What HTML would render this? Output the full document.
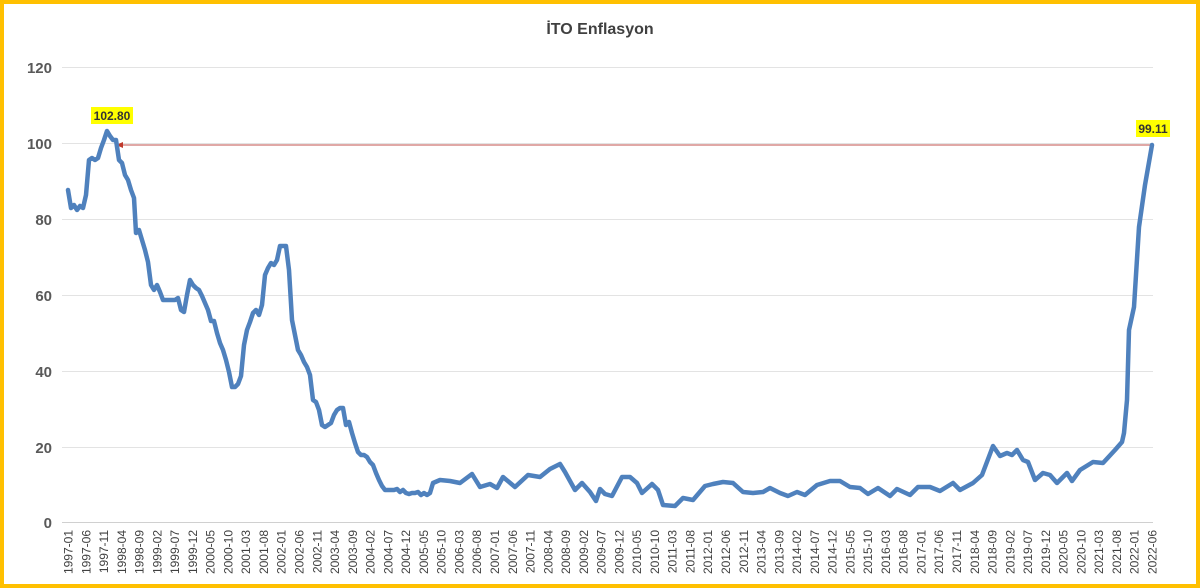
<!DOCTYPE html>
<html><head><meta charset="utf-8"><style>
body{margin:0;background:#fff}
svg{display:block;font-family:"Liberation Sans",sans-serif}
</style></head><body>
<svg width="1200" height="588" viewBox="0 0 1200 588">
<rect x="2" y="2" width="1196" height="584" fill="#fff" stroke="#FFC000" stroke-width="4"/>
<text x="600" y="34" text-anchor="middle" font-size="16" font-weight="bold" fill="#404040">İTO Enflasyon</text>
<g stroke="#e3e3e3" stroke-width="1">
<line x1="62" x2="1153" y1="67.5" y2="67.5"/><line x1="62" x2="1153" y1="143.5" y2="143.5"/>
<line x1="62" x2="1153" y1="219.5" y2="219.5"/><line x1="62" x2="1153" y1="295.5" y2="295.5"/>
<line x1="62" x2="1153" y1="371.5" y2="371.5"/><line x1="62" x2="1153" y1="447.5" y2="447.5"/>
<line x1="62" x2="1153" y1="522.5" y2="522.5" stroke="#d0d0d0"/>
</g>
<g font-size="15" font-weight="bold" fill="#595959" text-anchor="end">
<text x="52" y="73">120</text><text x="52" y="149">100</text><text x="52" y="225">80</text>
<text x="52" y="301">60</text><text x="52" y="377">40</text><text x="52" y="453">20</text><text x="52" y="528">0</text>
</g>
<g id="xl" font-size="12" fill="#404040"></g>
<line x1="1152" y1="145" x2="122" y2="145" stroke="#c0504d" stroke-width="1"/>
<polygon points="116,145 123,142 123,148" fill="#c0392b"/>
<polyline fill="none" stroke="#4f81bd" stroke-width="4.5" stroke-linejoin="round" stroke-linecap="round" points="68,190 71,208 74,205 77,210 80,206 83,208 86,195 89,160 92,158 95,160 98,158 101,148 104,140 107,131 110,136 113,140 116,140 119,160 122,163 125,175 128,180 131,190 134,198 136,233 139,230 142,240 145,250 148,262 151,285 154,290 157,285 160,292 163,300 166,300 169,300 172,300 175,300 178,298 181,310 184,312 187,295 190,280 193,285 196,288 199,290 202,296 205,303 208,310 211,321 214,321 217,333 220,343 223,350 226,360 229,372 232,387 235,387 238,384 241,376 244,345 247,330 250,322 253,313 256,310 259,315 262,305 265,275 268,268 271,263 274,265 277,260 280,246 283,246 286,246 289,270 292,320 295,335 298,350 301,355 304,362 307,367 310,375 313,400 316,402 319,410 322,425 325,427 328,425 331,423 334,415 337,410 340,408 343,408 346,425 349,422 352,433 355,443 358,452 361,455 364,455 367,457 370,462 373,465 376,473 379,480 382,486 385,490 388,490 391,490 394,490 397,489 400,492 403,490 406,493 409,494 412,493 415,493 418,492 421,495 424,493 427,495 430,493 433,483 440,480 450,481 460,483 472,474 480,487 490,484 497,488 503,477 515,487 528,475 540,477 550,469 560,464 565,472 575,490 582,483 590,492 596,501 600,489 605,494 612,496 622,477 630,477 637,483 642,493 652,484 658,490 663,505 675,506 683,498 693,500 705,486 713,484 723,482 733,483 743,492 753,493 763,492 770,488 780,493 788,496 797,492 805,495 817,485 830,481 840,481 850,487 860,488 868,494 878,488 890,496 897,489 910,495 918,487 930,487 940,491 953,483 960,490 973,483 982,475 993,446 1000,456 1007,453 1012,455 1017,450 1023,460 1028,462 1035,480 1043,473 1050,475 1057,483 1067,473 1072,481 1080,470 1093,462 1103,463 1115,450 1122,442 1124,433 1127,400 1129,330 1134,307 1139,227 1145,185 1152,145"/>
<rect x="91" y="107" width="42" height="17" fill="#ffff00"/>
<text x="112" y="120" text-anchor="middle" font-size="12" font-weight="bold" fill="#333">102.80</text>
<rect x="1136" y="120" width="34" height="17" fill="#ffff00"/>
<text x="1153" y="133" text-anchor="middle" font-size="12" font-weight="bold" fill="#333">99.11</text>
</svg>
<script>
var g=document.getElementById('xl'),s='';
for(var i=0;i<=305;i+=5){var y=1997+Math.floor(i/12),m=i%12+1;var x=68+i*3.554;
s+='<text transform="translate('+(x+4.5).toFixed(1)+',530) rotate(-90)" text-anchor="end">'+y+'-'+(m<10?'0':'')+m+'</text>';}
g.innerHTML=s;
</script>
</body></html>
